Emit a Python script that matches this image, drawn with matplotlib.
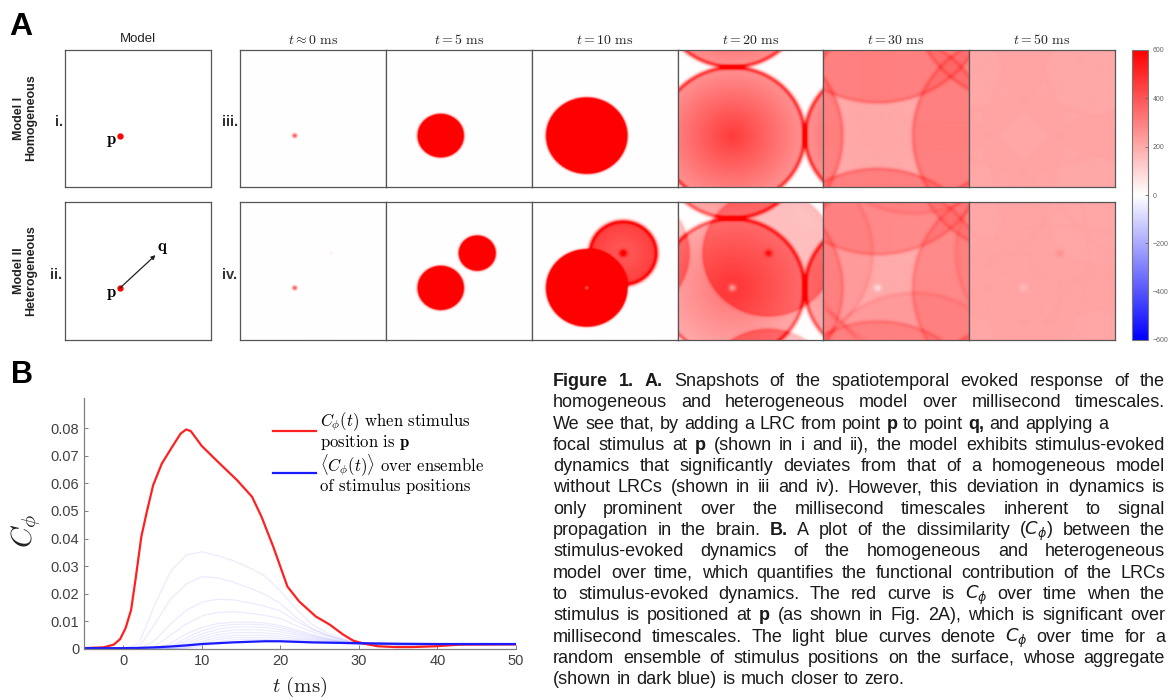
import numpy as np
import matplotlib
matplotlib.use("Agg")
import matplotlib.pyplot as plt
from matplotlib.lines import Line2D

W, H = 1169, 700

plt.rcParams["font.family"] = ["Liberation Sans", "DejaVu Sans"]
plt.rcParams["mathtext.fontset"] = "cm"

# ==========================================
# Panel A data (snapshot parameters)
# ==========================================

snap_titles = [
    r"$t \approx 0\ \mathrm{ms}$",
    r"$t = 5\ \mathrm{ms}$",
    r"$t = 10\ \mathrm{ms}$",
    r"$t = 20\ \mathrm{ms}$",
    r"$t = 30\ \mathrm{ms}$",
    r"$t = 50\ \mathrm{ms}$",
]

p_pos = (0.375, 0.375)
q_pos = (0.625, 0.625)

# saturation of the wave interiors at each snapshot (late times flatten out)
sat_level = [1e9, 1e9, 1e9, 1e9, 360, 215]

# homogeneous model, wave from p
homog_radius = [0.014, 0.158, 0.278, 0.50, 0.76, 1.25]
homog_level = [420, 900, 900, 460, 240, 100]
homog_slope = [0.0, 0.0, 0.0, 0.45, 0.15, 0.0]
homog_ring = [0, 0, 0, 300, 60, 3]

# heterogeneous model, waves from p and q
het_p_radius = [0.014, 0.158, 0.278, 0.50, 0.76, 1.25]
het_p_level = [420, 900, 900, 330, 170, 80]
het_p_slope = [0.0, 0.0, 0.0, 0.40, 0.15, 0.0]
het_p_ring = [0, 0, 0, 250, 50, 3]
het_p_spot = [0, 0, -500, -250, -120, -50]

het_q_radius = [0.006, 0.126, 0.232, 0.455, 0.715, 1.20]
het_q_level = [60, 900, 380, 150, 60, 30]
het_q_slope = [0.0, 0.0, -0.2, 0.0, 0.0, 0.0]
het_q_ring = [0, 0, 250, 30, 30, 3]
het_q_spot = [0, 0, 300, 200, 0, 50]

cbar_ticks = [600, 400, 200, 0, -200, -400, -600]

# ==========================================
# Panel B data
# ==========================================

red_t = [-5, -2.5, -1.2, -0.4, 0.3, 1.0, 1.6, 2.3, 3.0, 3.8, 4.9, 6.2,
         7.3, 8.0, 8.6, 10, 12.3, 14.5, 16.4, 17.6, 19.1, 20.9, 22.4,
         24.5, 26.3, 28, 29.3, 30.7, 32.4, 34.6, 36.8, 39.8, 42.9, 50]
red_c = [0.0003, 0.0006, 0.0016, 0.0036, 0.0076, 0.0142, 0.026, 0.0407,
         0.0497, 0.0593, 0.0671, 0.0731, 0.078, 0.0795, 0.0789, 0.0735,
         0.0671, 0.0611, 0.0551, 0.0479, 0.037, 0.0226, 0.0172, 0.0118,
         0.0088, 0.0052, 0.003, 0.0019, 0.001, 0.0007, 0.0007, 0.001,
         0.0016, 0.0017]

ens_t = [-5, 0, 2, 4, 6, 8, 10, 12, 14, 16, 18, 20, 22, 24, 26, 28, 30, 35, 40, 50]

ens_mean = [0.0003, 0.0003, 0.0004, 0.0006, 0.0009, 0.0013, 0.0018, 0.0021,
            0.0024, 0.0026, 0.0028, 0.0028, 0.0026, 0.0024, 0.0023, 0.0022,
            0.0021, 0.0019, 0.0018, 0.0018]

ens_1 = [0, 0, 0.002, 0.016, 0.028, 0.034, 0.0352, 0.0338, 0.032, 0.0295,
         0.0265, 0.021, 0.0145, 0.009, 0.0058, 0.0038, 0.0025, 0.0017, 0.0016, 0.0016]
ens_2 = [0, 0, 0.0005, 0.009, 0.018, 0.0235, 0.0262, 0.0258, 0.0242, 0.0222,
         0.0198, 0.0165, 0.0115, 0.0075, 0.005, 0.0033, 0.0022, 0.0016, 0.0016, 0.0016]
ens_3 = [0, 0, 0, 0.003, 0.009, 0.014, 0.017, 0.018, 0.0178, 0.0168,
         0.0155, 0.0138, 0.0102, 0.0072, 0.005, 0.0033, 0.0022, 0.0016, 0.0016, 0.0016]
ens_4 = [0, 0, 0, 0.001, 0.005, 0.009, 0.012, 0.0132, 0.0135, 0.013,
         0.0122, 0.011, 0.0085, 0.0063, 0.0045, 0.003, 0.002, 0.0016, 0.0016, 0.0016]
ens_5 = [0, 0, 0, 0, 0.002, 0.0055, 0.0078, 0.0092, 0.0097, 0.0098,
         0.0094, 0.0085, 0.007, 0.0053, 0.0038, 0.0027, 0.002, 0.0016, 0.0016, 0.0016]
ens_6 = [0, 0, 0, 0, 0.001, 0.004, 0.0066, 0.0082, 0.0089, 0.009,
         0.0087, 0.0078, 0.0064, 0.0049, 0.0036, 0.0026, 0.002, 0.0016, 0.0016, 0.0016]
ens_7 = [0, 0, 0, 0, 0.0005, 0.003, 0.0055, 0.0072, 0.0079, 0.008,
         0.0078, 0.007, 0.0058, 0.0045, 0.0034, 0.0025, 0.0019, 0.0016, 0.0016, 0.0016]
ens_8 = [0, 0, 0, 0, 0.0003, 0.0022, 0.0045, 0.0061, 0.0069, 0.007,
         0.0068, 0.0062, 0.0052, 0.0041, 0.0031, 0.0024, 0.0019, 0.0016, 0.0016, 0.0016]
ens_9 = [0, 0, 0, 0, 0.0002, 0.0016, 0.0036, 0.0051, 0.0059, 0.006,
         0.0058, 0.0053, 0.0045, 0.0037, 0.0029, 0.0023, 0.0018, 0.0016, 0.0016, 0.0016]
ens_10 = [0, 0, 0, 0, 0, 0.001, 0.0028, 0.0042, 0.0049, 0.005,
          0.0049, 0.0045, 0.0039, 0.0033, 0.0027, 0.0022, 0.0018, 0.0016, 0.0016, 0.0016]
ens_11 = [0, 0, 0, 0, 0, 0.0007, 0.0022, 0.0034, 0.0041, 0.0042,
          0.0041, 0.0038, 0.0034, 0.003, 0.0025, 0.0021, 0.0018, 0.0016, 0.0016, 0.0016]
ens_12 = [0, 0, 0, 0, 0, 0.0004, 0.0016, 0.0027, 0.0033, 0.0035,
          0.0034, 0.0032, 0.003, 0.0027, 0.0023, 0.002, 0.0018, 0.0016, 0.0016, 0.0016]
ens_13 = [0, 0, 0, 0, 0, 0.0002, 0.001, 0.0019, 0.0025, 0.0028,
          0.0028, 0.0027, 0.0025, 0.0023, 0.0021, 0.0019, 0.0017, 0.0016, 0.0016, 0.0016]

ensemble = [ens_1, ens_2, ens_3, ens_4, ens_5, ens_6, ens_7,
            ens_8, ens_9, ens_10, ens_11, ens_12, ens_13]

y_ticks = [0, 0.01, 0.02, 0.03, 0.04, 0.05, 0.06, 0.07, 0.08]
y_labels = ["0", "0.01", "0.02", "0.03", "0.04", "0.05", "0.06", "0.07", "0.08"]
x_ticks = [0, 10, 20, 30, 40, 50]

caption_lines = [
    ("*Figure *1. *A. Snapshots of the spatiotemporal evoked response of the", True),
    ("homogeneous and heterogeneous model over millisecond timescales.", True),
    ("We see that, by adding a LRC from point *p to point *q, and applying a", False),
    ("focal stimulus at *p (shown in i and ii), the model exhibits stimulus-evoked", True),
    ("dynamics that significantly deviates from that of a homogeneous model", True),
    ("without LRCs (shown in iii and iv). However, this deviation in dynamics is", True),
    ("only prominent over the millisecond timescales inherent to signal", True),
    ("propagation in the brain.  *B. A plot of the dissimilarity ($C_\\phi$) between the", True),
    ("stimulus-evoked dynamics of the homogeneous and heterogeneous", True),
    ("model over time, which quantifies the functional contribution of the LRCs", True),
    ("to stimulus-evoked dynamics. The red curve is $C_\\phi$ over time when the", True),
    ("stimulus is positioned at *p (as shown in Fig. 2A), which is significant over", True),
    ("millisecond timescales. The light blue curves denote $C_\\phi$ over time for a", True),
    ("random ensemble of stimulus positions on the surface, whose aggregate", True),
    ("(shown in dark blue) is much closer to zero.", False),
]

# ==========================================
# Helpers
# ==========================================

fig = plt.figure(figsize=(W / 100, H / 100), dpi=100)


def px_axes(x0, y0, x1, y1):
    return fig.add_axes([x0 / W, 1 - y1 / H, (x1 - x0) / W, (y1 - y0) / H])


def px_text(x, y, s, **kw):
    return fig.text(x / W, 1 - y / H, s, **kw)


N = 240
grid = (np.arange(N) + 0.5) / N
GX, GY = np.meshgrid(grid, grid)


def wave(pos, radius, level, slope, ring, spot=0):
    # returns (interior, ring + spot) of a periodic expanding front
    body = np.zeros_like(GX)
    lines = np.zeros_like(GX)
    dmin = np.full_like(GX, 10.0)
    for i in range(-2, 3):
        for j in range(-2, 3):
            d = np.hypot(GX - pos[0] - i, GY - pos[1] - j)
            dmin = np.minimum(dmin, d)
            inside = 0.5 * (1 - np.tanh((d - radius) / 0.008))
            body += level * (1 - slope * np.minimum(d / radius, 1)) * inside
            lines += ring * np.exp(-((d - radius) / 0.016) ** 2)
    lines += spot * np.exp(-(dmin / 0.025) ** 2)
    return body, lines


def combine(parts, sat):
    body = sum(b for b, _ in parts)
    lines = sum(l for _, l in parts)
    return sat * np.tanh(body / sat) + lines


def style_box(ax, color="#555555"):
    ax.set_xticks([])
    ax.set_yticks([])
    ax.set_xlim(0, 1)
    ax.set_ylim(0, 1)
    for s in ax.spines.values():
        s.set_color(color)
        s.set_linewidth(0.9)


# ==========================================
# Panel A
# ==========================================

px_text(9, 35, "A", fontsize=23, fontweight="bold", va="baseline")

rows = [(50, 187), (202, 340)]

# model column
ax_i = px_axes(65, 50, 211, 187)
style_box(ax_i)
ax_i.plot(*p_pos, "o", color="red", ms=3.5)
ax_i.text(0.32, 0.33, r"$\mathbf{p}$", fontsize=12, ha="center", va="center")

ax_ii = px_axes(65, 202, 211, 340)
style_box(ax_ii)
ax_ii.annotate("", xy=(0.62, 0.615), xytext=p_pos,
               arrowprops=dict(arrowstyle="-|>", color="#222222", lw=0.9,
                               mutation_scale=6, shrinkA=0, shrinkB=0))
ax_ii.plot(*p_pos, "o", color="red", ms=3.5)
ax_ii.text(0.32, 0.33, r"$\mathbf{p}$", fontsize=12, ha="center", va="center")
ax_ii.text(0.67, 0.665, r"$\mathbf{q}$", fontsize=12, ha="center", va="center")

px_text(138, 42, "Model", fontsize=9.5, ha="center", va="baseline", color="#222222")

# snapshots
x_edges = [240, 386, 532, 678, 823, 969, 1115]
img = None
for k in range(6):
    homog = combine([wave(p_pos, homog_radius[k], homog_level[k],
                          homog_slope[k], homog_ring[k])], sat_level[k])
    het = combine([wave(p_pos, het_p_radius[k], het_p_level[k], het_p_slope[k],
                        het_p_ring[k], het_p_spot[k]),
                   wave(q_pos, het_q_radius[k], het_q_level[k], het_q_slope[k],
                        het_q_ring[k], het_q_spot[k])], sat_level[k])
    for (y0, y1), field in zip(rows, [homog, het]):
        ax = px_axes(x_edges[k], y0, x_edges[k + 1], y1)
        img = ax.imshow(field, origin="lower", extent=[0, 1, 0, 1], cmap="bwr",
                        vmin=-600, vmax=600, interpolation="bilinear", aspect="auto")
        style_box(ax)
    px_text((x_edges[k] + x_edges[k + 1]) / 2, 44, snap_titles[k], fontsize=10,
            ha="center", va="baseline", color="#222222")

# row labels
px_text(25, 118, "Model I\nHomogeneous", fontsize=9, fontweight="bold",
        rotation=90, ha="center", va="center", color="#222222", linespacing=1.1)
px_text(25, 271, "Model II\nHeterogeneous", fontsize=9, fontweight="bold",
        rotation=90, ha="center", va="center", color="#222222", linespacing=1.1)
for x, y, s in [(59, 122, "i."), (56, 275, "ii."), (230, 122, "iii."), (230, 275, "iv.")]:
    px_text(x, y, s, fontsize=10.5, fontweight="bold", ha="center", va="center",
            color="#333333")

# colorbar
cax = px_axes(1132, 50, 1148, 340)
cb = fig.colorbar(img, cax=cax)
cb.set_ticks(cbar_ticks)
cb.ax.tick_params(labelsize=5, colors="#666666", direction="in", length=2, width=0.6)
cb.outline.set_edgecolor("#777777")
cb.outline.set_linewidth(0.8)

# ==========================================
# Panel B
# ==========================================

px_text(11, 383, "B", fontsize=22, fontweight="bold", va="baseline")

axb = px_axes(84, 398, 516, 649)
for curve in ensemble:
    axb.plot(ens_t, curve, color=(0.3, 0.3, 1.0), alpha=0.11, lw=0.9)
axb.plot(red_t, red_c, color="#ff2020", lw=1.6)
axb.plot(ens_t, ens_mean, color="#1a1aff", lw=1.6)

axb.set_xlim(-5, 50)
axb.set_ylim(0, 0.0909)
axb.set_xticks(x_ticks)
axb.set_yticks(y_ticks)
axb.set_yticklabels(y_labels)
axb.spines["top"].set_visible(False)
axb.spines["right"].set_visible(False)
for s in ["left", "bottom"]:
    axb.spines[s].set_color("#808080")
    axb.spines[s].set_linewidth(0.9)
axb.tick_params(direction="in", length=3, width=0.7, colors="#808080",
                labelcolor="#404040", labelsize=10.5)

axb.set_xlabel(r"$t\ \mathrm{(ms)}$", fontsize=15, color="#222222")
axb.xaxis.set_label_coords(0.5, -0.105)
axb.set_ylabel(r"$C_\phi$", fontsize=21, color="#222222")
axb.yaxis.set_label_coords(-0.095, 0.47)

handles = [Line2D([], [], color="#ff2020", lw=1.6),
           Line2D([], [], color="#1a1aff", lw=1.6)]
labels = ["$C_\\phi(t)$ when stimulus\nposition is $\\mathbf{p}$",
          "$\\langle C_\\phi(t)\\rangle$ over ensemble\nof stimulus positions"]
leg = axb.legend(handles, labels, loc="upper left",
                 bbox_to_anchor=((273 - 84) / 432, (649 - 410) / 251),
                 frameon=False, prop={"family": "cmr10", "size": 12},
                 handlelength=2.6, handletextpad=0.2, borderaxespad=0,
                 borderpad=0, labelspacing=0.05)
for t in leg.get_texts():
    t.set_linespacing(1.0)

# ==========================================
# Caption (justified lines)
# ==========================================

renderer = fig.canvas.get_renderer()
cap_x0, cap_x1 = 553, 1165
cap_y0, cap_dy = 386, 21.3
cap_size = 13
for k, (line, stretch) in enumerate(caption_lines):
    words = [w for w in line.split(" ") if w]
    texts = []
    for w in words:
        bold = w.startswith("*")
        s = w[1:] if bold else w
        texts.append(fig.text(0, 0, s, fontsize=cap_size,
                              fontweight="bold" if bold else "normal",
                              color="#1a1a1a", math_fontfamily="dejavusans",
                              va="baseline", ha="left"))
    widths = [t.get_window_extent(renderer).width for t in texts]
    if stretch and len(texts) > 1:
        gap = max((cap_x1 - cap_x0 - sum(widths)) / (len(texts) - 1), 2)
    else:
        gap = cap_size * 100 / 72 * 0.3
    x = cap_x0
    for t, w in zip(texts, widths):
        t.set_position((x / W, 1 - (cap_y0 + k * cap_dy) / H))
        x += w + gap

fig.savefig("out.png", dpi=100)
